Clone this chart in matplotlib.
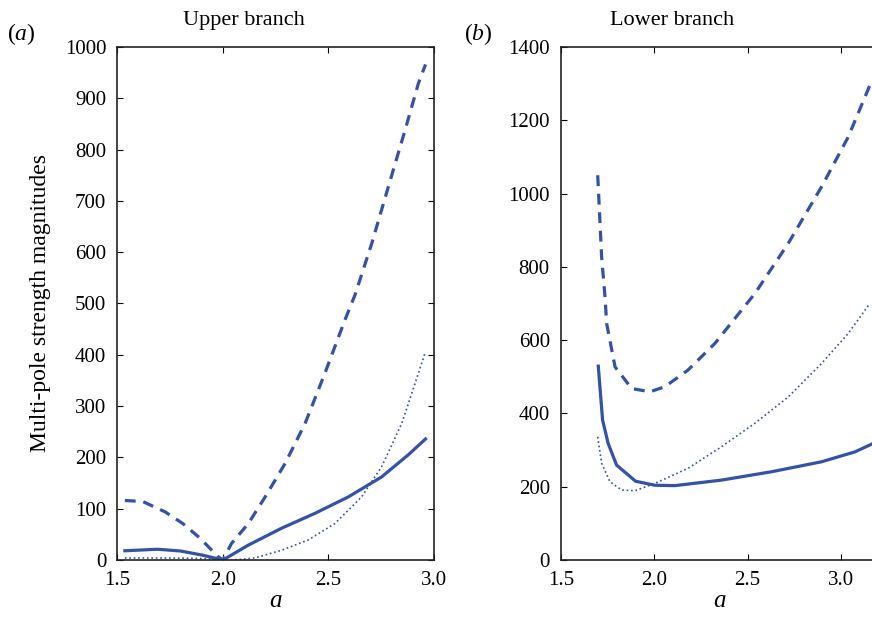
import numpy as np
import matplotlib.pyplot as plt

plt.rcParams['font.family'] = ['Liberation Serif', 'DejaVu Serif']
plt.rcParams['mathtext.fontset'] = 'custom'
plt.rcParams['mathtext.it'] = 'Liberation Serif:italic'
plt.rcParams['mathtext.rm'] = 'Liberation Serif'

color = '#3352a8'

# rama superior
up_a_dash = [1.535, 1.62, 1.725, 1.81, 1.89, 1.978, 2.0, 2.04, 2.12, 2.2, 2.294, 2.389,
             2.483, 2.578, 2.626, 2.705, 2.784, 2.863, 2.926, 2.96]
up_dash = [116, 114, 94, 71, 43, 6, 0, 32, 71, 123, 188, 266, 364, 468, 517, 617, 728,
           838, 929, 966]
up_a_solid = [1.535, 1.69, 1.80, 1.90, 2.0, 2.12, 2.278, 2.436, 2.594, 2.752, 2.878, 2.96]
up_solid = [18, 21, 17.5, 9.7, 0, 29, 62, 91, 123, 162, 205, 236]
up_a_dot = [1.535, 1.7, 1.85, 1.95, 2.0, 2.08, 2.15, 2.278, 2.404, 2.53, 2.657, 2.752,
            2.847, 2.91, 2.957]
up_dot = [4, 4, 3.5, 2, 0, 1, 4, 19, 39, 71, 123, 182, 266, 344, 403]

# rama inferior
lo_a_solid = [1.70, 1.723, 1.753, 1.798, 1.90, 2.003, 2.11, 2.36, 2.63, 2.896, 3.075, 3.164]
lo_solid = [529, 382, 318, 259, 215, 204, 203, 218, 241, 268, 295, 316]
lo_a_dash = [1.697, 1.718, 1.736, 1.745, 1.79, 1.879, 1.977, 2.057, 2.18, 2.325, 2.468,
             2.539, 2.718, 2.896, 3.039, 3.155]
lo_dash = [1050, 827, 718, 645, 527, 468, 459, 473, 518, 591, 682, 727, 864, 1018, 1154, 1295]
lo_a_dot = [1.697, 1.718, 1.762, 1.825, 1.896, 2.003, 2.18, 2.36, 2.539, 2.718, 2.896,
            3.039, 3.155]
lo_dot = [336, 264, 214, 191, 189, 209, 250, 309, 373, 445, 536, 618, 700]

fig = plt.figure(figsize=(8.72, 6.19), dpi=100)
ax1 = fig.add_axes([0.1347, 0.0953, 0.363, 0.8288])
ax2 = fig.add_axes([0.6433, 0.0953, 0.3638, 0.8288])

ax1.plot(up_a_dash, up_dash, '--', color=color, lw=2.3, dashes=(3.4, 2.4))
ax1.plot(up_a_solid, up_solid, '-', color=color, lw=2.3)
ax1.plot(up_a_dot, up_dot, ':', color=color, lw=1.2)
ax1.set_xlim(1.5, 3.0)
ax1.set_ylim(0, 1000)
ax1.set_xticks([1.5, 2.0, 2.5, 3.0])
ax1.set_xticklabels(['1.5', '2.0', '2.5', '3.0'])
ax1.set_yticks(np.arange(0, 1001, 100))
ax1.set_ylabel('Multi-pole strength magnitudes', fontsize=17, labelpad=10)
ax1.set_title('Upper branch', fontsize=16, pad=16, x=0.40)

ax2.plot(lo_a_dash, lo_dash, '--', color=color, lw=2.3, dashes=(3.4, 2.4))
ax2.plot(lo_a_solid, lo_solid, '-', color=color, lw=2.3)
ax2.plot(lo_a_dot, lo_dot, ':', color=color, lw=1.2)
ax2.set_xlim(1.5, 3.2)
ax2.set_ylim(0, 1400)
ax2.set_xticks([1.5, 2.0, 2.5, 3.0])
ax2.set_xticklabels(['1.5', '2.0', '2.5', '3.0'])
ax2.set_yticks(np.arange(0, 1401, 200))
ax2.set_title('Lower branch', fontsize=16, pad=16, x=0.35)

for ax in (ax1, ax2):
    ax.set_xlabel('$a$', fontsize=18, labelpad=0)
    ax.tick_params(direction='in', top=True, right=True, labelsize=15, length=4)
    ax.tick_params(axis='x', pad=8)
    ax.tick_params(axis='y', pad=8)
    for s in ax.spines.values():
        s.set_linewidth(1.2)
        s.set_color('#222222')

fig.text(0.008, 0.935, '($a$)', fontsize=17)
fig.text(0.532, 0.935, '($b$)', fontsize=17)

fig.savefig('out.png', dpi=100)
